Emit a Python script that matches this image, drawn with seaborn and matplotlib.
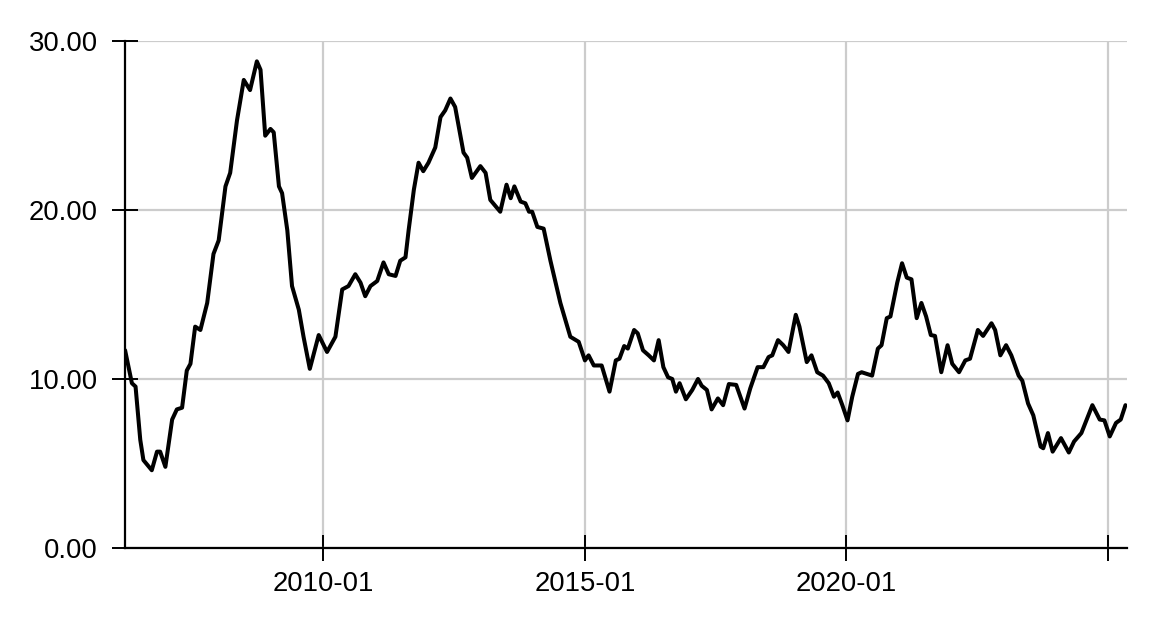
import matplotlib
matplotlib.use("Agg")
import matplotlib.pyplot as plt
import numpy as np
import pandas as pd
import seaborn as sns

# decimal years
years = [
    2006.21, 2006.34, 2006.41, 2006.50, 2006.56, 2006.72, 2006.82, 2006.88, 2006.98,
    2007.11, 2007.20, 2007.30, 2007.39, 2007.46, 2007.55, 2007.65, 2007.78, 2007.90,
    2008.00, 2008.13, 2008.22, 2008.35, 2008.48, 2008.60, 2008.73, 2008.80, 2008.89,
    2008.99, 2009.05, 2009.15, 2009.21, 2009.31, 2009.40, 2009.53, 2009.62, 2009.74,
    2009.91, 2010.07, 2010.23, 2010.36, 2010.48, 2010.61, 2010.71, 2010.80, 2010.90,
    2011.03, 2011.15, 2011.25, 2011.38, 2011.47, 2011.57, 2011.63, 2011.73, 2011.82,
    2011.91, 2012.01, 2012.14, 2012.24, 2012.33, 2012.43, 2012.52, 2012.68, 2012.75,
    2012.84, 2013.00, 2013.10, 2013.19, 2013.38, 2013.50, 2013.58, 2013.65, 2013.77,
    2013.86, 2013.93, 2013.99, 2014.09, 2014.21, 2014.34, 2014.53, 2014.72, 2014.88,
    2015.00, 2015.07, 2015.17, 2015.32, 2015.47, 2015.59, 2015.66, 2015.75, 2015.82,
    2015.94, 2016.01, 2016.11, 2016.22, 2016.32, 2016.41, 2016.50, 2016.59, 2016.67,
    2016.74, 2016.81, 2016.93, 2017.05, 2017.16, 2017.23, 2017.33, 2017.42, 2017.54,
    2017.64, 2017.75, 2017.89, 2018.05, 2018.16, 2018.30, 2018.41, 2018.51, 2018.58,
    2018.69, 2018.79, 2018.89, 2019.03, 2019.10, 2019.24, 2019.33, 2019.44, 2019.55,
    2019.66, 2019.76, 2019.83, 2019.92, 2020.02, 2020.11, 2020.22, 2020.29, 2020.39,
    2020.49, 2020.60, 2020.67, 2020.77, 2020.84, 2020.97, 2021.06, 2021.15, 2021.24,
    2021.34, 2021.43, 2021.52, 2021.61, 2021.69, 2021.81, 2021.93, 2022.02, 2022.15,
    2022.27, 2022.36, 2022.44, 2022.51, 2022.61, 2022.77, 2022.84, 2022.94, 2023.05,
    2023.15, 2023.29, 2023.36, 2023.47, 2023.57, 2023.71, 2023.76, 2023.85, 2023.94,
    2024.10, 2024.25, 2024.35, 2024.49, 2024.70, 2024.84, 2024.93, 2025.03, 2025.15,
    2025.24, 2025.33,
]
values = [
    11.7, 9.75, 9.55, 6.4, 5.2, 4.6, 5.7, 5.7, 4.8,
    7.6, 8.2, 8.3, 10.5, 10.9, 13.1, 12.9, 14.5, 17.4,
    18.2, 21.4, 22.2, 25.3, 27.7, 27.1, 28.8, 28.3, 24.4,
    24.8, 24.6, 21.4, 21.0, 18.8, 15.5, 14.1, 12.5, 10.6,
    12.6, 11.6, 12.5, 15.3, 15.5, 16.2, 15.7, 14.9, 15.5,
    15.8, 16.9, 16.2, 16.1, 17.0, 17.2, 18.8, 21.2, 22.8,
    22.3, 22.8, 23.7, 25.5, 25.9, 26.6, 26.1, 23.4, 23.1,
    21.9, 22.6, 22.2, 20.6, 19.9, 21.5, 20.7, 21.4, 20.5,
    20.4, 19.9, 19.9, 19.0, 18.9, 17.0, 14.5, 12.5, 12.2,
    11.1, 11.4, 10.8, 10.8, 9.25, 11.1, 11.2, 11.95, 11.8,
    12.9, 12.7, 11.7, 11.4, 11.1, 12.3, 10.7, 10.1, 10.0,
    9.25, 9.75, 8.8, 9.35, 10.0, 9.6, 9.35, 8.2, 8.85,
    8.45, 9.7, 9.65, 8.25, 9.45, 10.7, 10.7, 11.3, 11.4,
    12.3, 12.0, 11.6, 13.8, 13.1, 11.0, 11.4, 10.4, 10.2,
    9.75, 8.95, 9.2, 8.45, 7.55, 8.95, 10.3, 10.4, 10.3,
    10.2, 11.8, 12.0, 13.6, 13.7, 15.7, 16.85, 16.0, 15.9,
    13.6, 14.5, 13.7, 12.6, 12.55, 10.4, 12.0, 10.9, 10.4,
    11.1, 11.2, 12.1, 12.9, 12.55, 13.3, 12.9, 11.4, 12.0,
    11.4, 10.2, 9.9, 8.55, 7.85, 6.0, 5.9, 6.8, 5.7,
    6.5, 5.65, 6.3, 6.8, 8.45, 7.6, 7.55, 6.6, 7.4,
    7.6, 8.45,
]
tick_dates = ["2010-01-01", "2015-01-01", "2020-01-01", "2025-01-01"]
tick_labels = ["2010-01", "2015-01", "2020-01", ""]
y_ticks = [0, 10, 20, 30]

yr = np.array(years)
whole = np.floor(yr).astype(int)
dates = pd.to_datetime([f"{y}-01-01" for y in whole]) + pd.to_timedelta((yr - whole) * 365.25, unit="D")
df = pd.DataFrame({"date": dates, "value": values})

sns.set_style("white")
plt.rcParams["font.family"] = ["Liberation Sans", "DejaVu Sans"]

fig = plt.figure(figsize=(11.52, 6.32), dpi=100)
ax = fig.add_axes([0.1085, 0.133, 0.8695, 0.802])

ax.grid(True, color="#cccccc", linewidth=1.6)
ax.set_axisbelow(True)
sns.lineplot(data=df, x="date", y="value", ax=ax, color="black", linewidth=2.9)
ax.lines[-1].set_solid_joinstyle("round")
ax.lines[-1].set_solid_capstyle("round")

ax.set_xlim(pd.Timestamp("2006-03-18"), pd.Timestamp("2025-05-10"))
ax.set_ylim(0, 30)
ax.set_xticks(pd.to_datetime(tick_dates))
ax.set_xticklabels(tick_labels)
ax.set_yticks(y_ticks)
ax.set_yticklabels([f"{v:.2f}" for v in y_ticks])
ax.set_xlabel("")
ax.set_ylabel("")

for s in ["top", "right"]:
    ax.spines[s].set_visible(False)
for s in ["left", "bottom"]:
    ax.spines[s].set_color("black")
    ax.spines[s].set_linewidth(1.6)
ax.tick_params(axis="both", direction="inout", length=19, width=1.4, color="black",
               labelsize=19.8, labelcolor="black", bottom=True, left=True)
ax.tick_params(axis="y", pad=10)
ax.tick_params(axis="x", pad=7)

fig.savefig("out.png", dpi=100)
